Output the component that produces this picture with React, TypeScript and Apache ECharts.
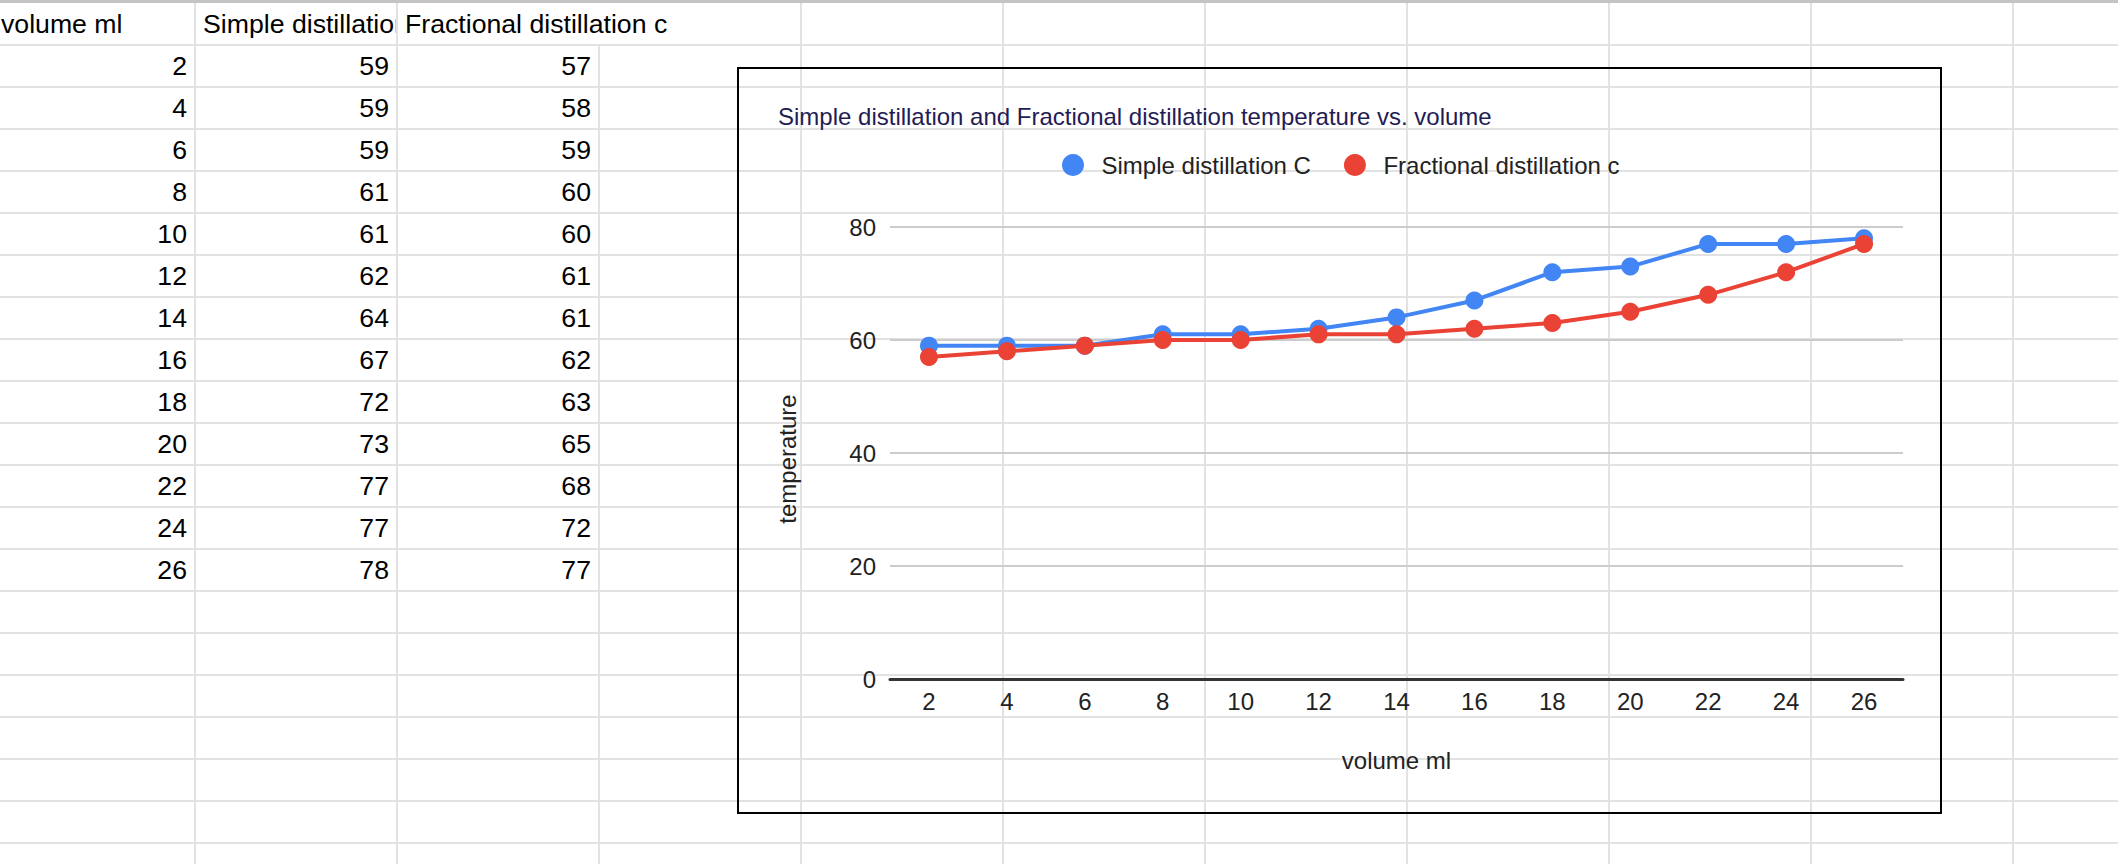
import React, { useEffect, useRef } from "react";
import * as echarts from "echarts";

// ---- data ----
const volumes = ["2", "4", "6", "8", "10", "12", "14", "16", "18", "20", "22", "24", "26"];
const simpleC = [59, 59, 59, 61, 61, 62, 64, 67, 72, 73, 77, 77, 78];
const fractionalC = [57, 58, 59, 60, 60, 61, 61, 62, 63, 65, 68, 72, 77];
const headers = ["volume ml", "Simple distillation C", "Fractional distillation c"];
const seriesNames = ["Simple distillation C", "Fractional distillation c"];
const chartTitle = "Simple distillation and Fractional distillation temperature vs. volume";
const xAxisTitle = "volume ml";
const yAxisTitle = "temperature";
const yMin = 0;
const yMax = 80;
const yStep = 20;

const FONT = "Arial, 'Liberation Sans', sans-serif";
const ROW_H = 42;
const ROW0 = 3;
const COL_W = 202;
const COL0 = 195; // first vertical border (right of column A)

function Sheet() {
  const lines: React.ReactNode[] = [];
  for (let k = 1; k <= 21; k++) {
    const y = ROW0 + ROW_H * k;
    lines.push(
      <div key={"h" + k} style={{ position: "absolute", left: 0, top: y - 1, width: 2118, height: 2, background: "#e2e2e2" }} />
    );
  }
  for (let j = 0; j < 10; j++) {
    const x = COL0 + COL_W * j;
    const top = j === 2 ? ROW0 + ROW_H : 0; // header text overflows over the C|D border
    lines.push(
      <div key={"v" + j} style={{ position: "absolute", left: x - 1, top, width: 2, height: 864 - top, background: "#e2e2e2" }} />
    );
  }
  const cells: React.ReactNode[] = [];
  const cellStyle = (c: number, r: number, align: "left" | "right", clip: boolean): React.CSSProperties => ({
    position: "absolute",
    left: COL0 + COL_W * (c - 1) + 1,
    top: ROW0 + ROW_H * r + 1,
    width: COL_W - 2,
    height: ROW_H - 2,
    lineHeight: ROW_H - 2 + "px",
    boxSizing: "border-box",
    padding: "0 7px",
    textAlign: align,
    whiteSpace: "nowrap",
    overflow: clip ? "hidden" : "visible",
    fontSize: "26.67px",
    fontFamily: FONT,
    color: "#000",
  });
  headers.forEach((h, c) => {
    cells.push(
      <div key={"hd" + c} style={cellStyle(c, 0, "left", c < 2)}>
        {h}
      </div>
    );
  });
  volumes.forEach((v, i) => {
    const r = i + 1;
    cells.push(<div key={"a" + i} style={cellStyle(0, r, "right", true)}>{v}</div>);
    cells.push(<div key={"b" + i} style={cellStyle(1, r, "right", true)}>{simpleC[i]}</div>);
    cells.push(<div key={"c" + i} style={cellStyle(2, r, "right", true)}>{fractionalC[i]}</div>);
  });
  return (
    <>
      {lines}
      <div style={{ position: "absolute", left: 0, top: 0, width: 2118, height: 3, background: "#c4c4c4" }} />
      {cells}
    </>
  );
}

export default function App() {
  const ref = useRef<HTMLDivElement>(null);

  useEffect(() => {
    document.body.style.margin = "0";
    document.body.style.overflow = "hidden";
    if (!ref.current) return;
    const chart = echarts.init(ref.current, undefined, { renderer: "svg" });
    chart.setOption({
      animation: false,
      backgroundColor: "transparent",
      title: {
        text: chartTitle,
        left: 39,
        top: 35,
        padding: 0,
        textStyle: { fontFamily: FONT, fontSize: 24, fontWeight: "normal", color: "#231c55" },
      },
      legend: {
        data: seriesNames,
        left: 323,
        top: 84,
        padding: 0,
        icon: "circle",
        itemWidth: 47,
        itemHeight: 22,
        itemGap: 33,
        textStyle: { fontFamily: FONT, fontSize: 24, color: "#222" },
      },
      grid: { left: 151, right: 37, top: 158, bottom: 133, containLabel: false },
      xAxis: {
        type: "category",
        data: volumes,
        boundaryGap: true,
        name: xAxisTitle,
        nameLocation: "middle",
        nameGap: 69,
        nameTextStyle: { fontFamily: FONT, fontSize: 24, color: "#222" },
        axisLine: { show: true, lineStyle: { color: "#333", width: 3 } },
        axisTick: { show: false },
        axisLabel: { fontFamily: FONT, fontSize: 24, color: "#222", margin: 10 },
        splitLine: { show: false },
      },
      yAxis: {
        type: "value",
        min: yMin,
        max: yMax,
        interval: yStep,
        name: yAxisTitle,
        nameLocation: "middle",
        nameGap: 91,
        nameTextStyle: { fontFamily: FONT, fontSize: 24, color: "#222", padding: [0, 12, 0, 0] },
        axisLine: { show: false },
        axisTick: { show: false },
        axisLabel: { fontFamily: FONT, fontSize: 24, color: "#222", margin: 14 },
        splitLine: { show: true, lineStyle: { color: "#cccccc", width: 2 } },
      },
      series: [
        {
          name: seriesNames[0],
          type: "line",
          data: simpleC,
          symbol: "circle",
          symbolSize: 18,
          color: "#4285f4",
          lineStyle: { width: 4, color: "#4285f4" },
          itemStyle: { color: "#4285f4" },
          z: 2,
        },
        {
          name: seriesNames[1],
          type: "line",
          data: fractionalC,
          symbol: "circle",
          symbolSize: 18,
          color: "#ea4335",
          lineStyle: { width: 4, color: "#ea4335" },
          itemStyle: { color: "#ea4335" },
          z: 3,
        },
      ],
    });
    return () => chart.dispose();
  }, []);

  return (
    <div
      style={{
        position: "absolute",
        left: 0,
        top: 0,
        width: 2118,
        height: 864,
        overflow: "hidden",
        background: "#fff",
        fontFamily: FONT,
      }}
    >
      <Sheet />
      <div
        style={{
          position: "absolute",
          left: 737,
          top: 67,
          width: 1205,
          height: 747,
          boxSizing: "border-box",
          border: "2px solid #000",
        }}
      >
        <div ref={ref} style={{ width: 1201, height: 743 }} />
      </div>
    </div>
  );
}
